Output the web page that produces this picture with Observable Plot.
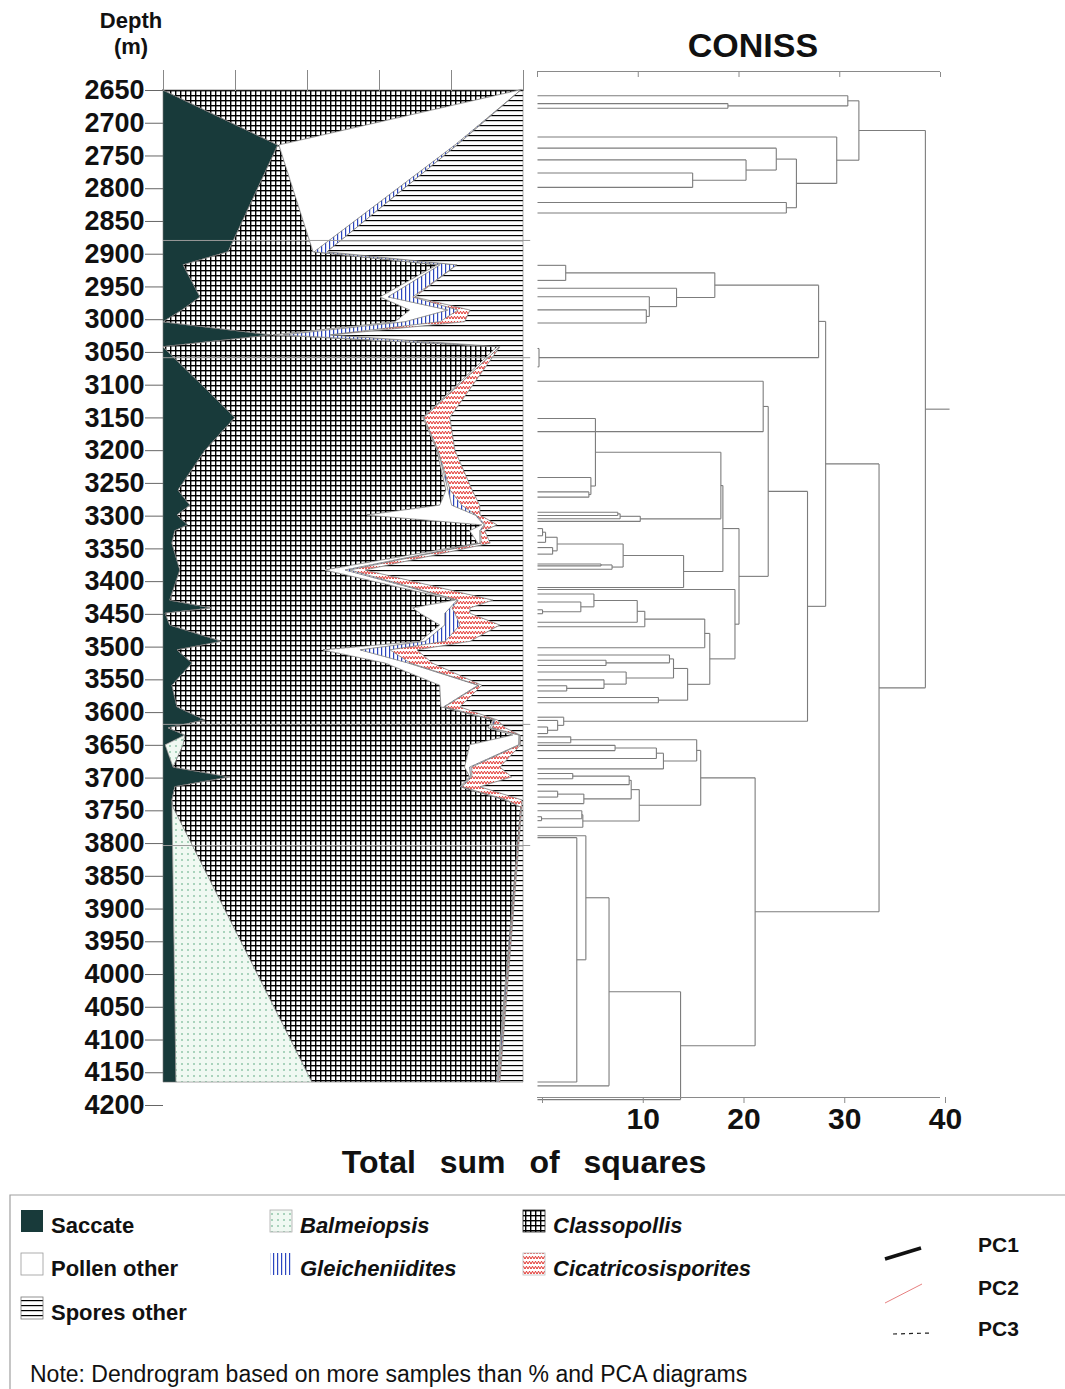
<!DOCTYPE html>
<html>
<head>
<meta charset="utf-8">
<script src="https://cdn.jsdelivr.net/npm/d3@7"></script>
<script src="https://cdn.jsdelivr.net/npm/@observablehq/plot@0.6"></script>
<style>
html,body{margin:0;padding:0;background:#fff;}
#wrap{position:relative;width:1065px;height:1389px;overflow:hidden;}
#wrap svg{position:absolute;}
</style>
</head>
<body>
<div id="wrap"></div>
<script>
// ---------------- DATA ----------------
const depths = [2650,2734,2897,2917,2966,2986,3004,3024,3042,3150,3200,3261,3284,3299,3314,3323,3342,3383,3429,3441,3449,3467,3492,3505,3525,3559,3592,3612,3624,3635,3650,3684,3699,3714,3734,3745,4165];
const saccate      = [0,31.9,18.1,5.6,10.3,5.3,0,30.3,0,20.0,11.7,4.2,7.5,3.9,6.9,3.3,2.5,4.7,1.9,13.6,0.6,1.9,16.4,3.9,8.1,2.5,3.9,11.7,1.4,6.1,0.6,2.8,18.6,3.3,2.5,2.5,3.6];
const balmeiopsis  = [0,0,0,0,0,0,0,0,0,0,0,0,0,0,0,0,0,0,0,0,0,0,0,0,0,0,0,0,0,0,5.0,0,0,0,0,0.3,37.8];
const classopollis = [99.1,0.3,23.6,70.6,50.0,63.3,64.4,0.3,92.8,52.2,64.4,74.4,69.4,52.8,81.7,81.9,85.0,40.3,79.2,55.8,70.8,75.0,55.0,40.6,53.6,74.4,73.3,80.0,88.9,91.1,79.6,81.0,66.6,79.2,92.4,96.6,51.3];
const pollenOther  = [0.3,48.9,0.3,0.8,2.2,10.6,2.8,2.8,0.8,0.3,0.3,0.6,3.3,30.0,0.6,2.8,0.6,5.6,0.6,10.3,6.9,1.4,1.4,10.3,6.4,10.6,0.8,0.3,0.6,1.7,13.6,1.4,0.3,0.3,0.3,0,0.3];
const gleicheniidites = [0,0.6,3.6,4.7,6.9,2.8,9.7,13.1,0,0,0,0.6,2.8,0.3,0.3,0.3,0.3,1.4,0.3,0.6,2.8,4.2,5.6,8.3,0.6,0.3,0.3,0.3,0.6,0.3,0.3,0.6,0.3,0.3,0.3,0,0.3];
const cicatricosisporites = [0,0,0,0,0.6,3.3,6.9,0.6,0,7.2,4.7,6.1,5.0,1.1,3.3,1.1,2.5,4.2,9.7,5.0,4.2,11.1,6.9,7.5,6.1,0.8,4.2,0.6,3.6,0,0.3,7.8,11.1,5.0,4.2,0.3,0.3];
const sporesOther  = [0.6,18.3,54.4,18.3,30.0,14.7,16.2,52.9,6.4,20.3,18.9,14.1,12.0,11.9,7.2,10.6,9.1,43.8,8.3,14.7,14.7,6.4,14.7,29.4,25.2,11.4,17.5,7.1,4.9,0.8,0.6,6.4,3.1,11.9,0.3,0.3,6.4];

const categoryNames = ["Saccate","Balmeiopsis","Classopollis","Pollen other","Gleicheniidites","Cicatricosisporites","Spores other"];
const depthTicks = d3.range(2650, 4201, 50);
const pctTicks = [0,20,40,60,80,100];
const dendTicks = [0,10,20,30,40];
const zoneDepths = [2879, 3058, 3618, 3803];

// CONISS dendrogram: [total sum of squares, upper, lower]; leaves are sample depths (m)
const conissTree =
[38.5,
  [31.9,
    [30.8, 2658, [18.9, 2670, 2677]],
    [29.7, 2721, [25.7, [23.7, 2738, [20.7, 2756, [15.4, 2776, 2798]]], [24.7, 2821, 2837]]]
  ],
  [33.9,
    [28.6,
      [27.9,
        [17.6, [2.8, 2917, 2940], [13.8, 2952, [11.1, 2965, [10.8, 2985, 3005]]]],
        [0.15, 3044, 3072]
      ],
      [26.8,
        [22.9,
          [22.4, 3094, 3171],
          [20.0,
            [18.4,
              [18.2,
                [5.75, 3151, [5.3, 3241, [5.1, 3263, 3271]]],
                [10.2, [8.2, [7.97, 3294, 3299], 3304], 3308]
              ],
              [14.5, [8.5, [1.95, [0.8, [0.5, 3319, 3330], 3340], [1.5, 3348, 3358]], [7.4, [6.3, 3373, 3376], 3381]], 3409]
            ],
            [19.6, 3412,
              [17.1,
                [16.6, [10.65, [9.9, [5.6, 3419, [4.3, 3431, [0.5, 3443, 3449]]], 3462], 3469], 3501],
                [14.9,
                  [13.5, [13.1, 3512, [6.8, 3520, 3528]], [8.8, 3538, [6.6, 3550, [2.9, 3559, 3567]]]],
                  [12.0, 3577, 3585]
                ]
              ]
            ]
          ]
        ],
        [2.6, 3607, [2.0, 3612, [1.0, 3622, 3632]]]
      ]
    ],
    [21.6,
      [16.2,
        [15.8, [3.3, 3637, 3646], [12.5, [11.8, [7.7, 3650, 3658], 3670], 3686]],
        [10.1, [9.3, [9.1, [3.5, 3693, 3701], 3710], [4.6, [2.0, 3720, 3729], 3739]], [4.5, [4.4, 3750, [0.4, 3759, 3765]], 3775]]
      ],
      [14.2, [7.1, [4.8, 3788, [3.9, 3791, 4164]], 4170], 4191]
    ]
  ]
];

// ---------------- SETUP ----------------
const FONT = "'Liberation Sans', Arial, Helvetica, sans-serif";
const wrap = d3.select("#wrap");
const ov = wrap.append("svg").attr("width",1065).attr("height",1389)
  .style("left","0px").style("top","0px");
ov.append("defs").html(`
<pattern id="p-grid" patternUnits="userSpaceOnUse" width="5" height="5">
  <rect width="5" height="5" fill="#fff"/>
  <rect x="0" y="0" width="1.4" height="5" fill="#000"/>
  <rect x="0" y="0" width="5" height="1.4" fill="#000"/>
</pattern>
<pattern id="p-hlines" patternUnits="userSpaceOnUse" width="6" height="5">
  <rect width="6" height="5" fill="#fff"/>
  <rect x="0" y="0" width="6" height="1.2" fill="#000"/>
</pattern>
<pattern id="p-vlines" patternUnits="userSpaceOnUse" width="4" height="6">
  <rect width="4" height="6" fill="#fff"/>
  <rect x="1" y="0" width="1.2" height="6" fill="#2c46c0"/>
</pattern>
<pattern id="p-zig" patternUnits="userSpaceOnUse" width="6" height="5">
  <rect width="6" height="5" fill="#fff"/>
  <path d="M0,4L1.5,1.2L3,4L4.5,1.2L6,4" fill="none" stroke="#e2342f" stroke-width="1"/>
</pattern>
<pattern id="p-dots" patternUnits="userSpaceOnUse" width="6" height="6">
  <rect width="6" height="6" fill="#f0f9f2"/>
  <circle cx="2" cy="2" r="0.75" fill="#3f9a6b"/>
</pattern>`);

const fills = {
  "Saccate": "#183a3a",
  "Balmeiopsis": "url(#p-dots)",
  "Classopollis": "url(#p-grid)",
  "Pollen other": "#ffffff",
  "Gleicheniidites": "url(#p-vlines)",
  "Cicatricosisporites": "url(#p-zig)",
  "Spores other": "url(#p-hlines)"
};
const series = [saccate, balmeiopsis, classopollis, pollenOther, gleicheniidites, cicatricosisporites, sporesOther];

// cumulative rows
const rows = depths.map((d, i) => {
  const total = d3.sum(series, s => s[i]);
  let acc = 0;
  const r = {depth: d};
  series.forEach((s, k) => {
    r["a" + k] = acc;
    acc += s[i] * 100 / total;
    r["b" + k] = acc;
  });
  return r;
});

const yRange = [90, 1105];
const yPix = d3.scaleLinear([2650, 4200], yRange);

// ---------------- PLOT 1: percentage diagram ----------------
const p1 = Plot.plot({
  width: 540, height: 1110,
  marginLeft: 163, marginRight: 17, marginTop: 90, marginBottom: 5,
  style: {fontFamily: FONT, background: "transparent", overflow: "visible", color: "#111"},
  x: {domain: [0, 100]},
  y: {domain: [2650, 4200], range: yRange},
  marks: [
    ...categoryNames.map((name, k) => Plot.areaX(rows, {
      y: "depth", x1: "a" + k, x2: "b" + k,
      fill: fills[name], stroke: "#7a7a7a", strokeWidth: 0.6, curve: "linear"
    })),
    Plot.ruleY(zoneDepths, {x1: 0, x2: 102, stroke: "#9a9a9a", strokeWidth: 1}),
    Plot.axisX({anchor: "top", ticks: pctTicks, tickSize: 21, tickFormat: () => "", label: null, stroke: "#888"}),
    Plot.axisY({anchor: "left", ticks: depthTicks, tickSize: 18, tickPadding: 1, tickFormat: d => String(d),
      label: null, fontSize: 27, fontWeight: "bold", stroke: "#666", fill: "#111"})
  ]
});
p1.style.left = "0px"; p1.style.top = "0px";
wrap.node().appendChild(p1);

// ---------------- PLOT 2: CONISS dendrogram ----------------
const segs = [];
function layout(node) {
  if (typeof node === "number") return {h: 0, y: node};
  const [h, a, b] = node;
  const A = layout(a), B = layout(b);
  segs.push({x1: A.h, x2: h, y1: A.y, y2: A.y});
  segs.push({x1: B.h, x2: h, y1: B.y, y2: B.y});
  segs.push({x1: h, x2: h, y1: A.y, y2: B.y});
  return {h, y: (A.y + B.y) / 2};
}
const root = layout(conissTree);
segs.push({x1: root.h, x2: 40.9, y1: root.y, y2: root.y});

const p2 = Plot.plot({
  width: 535, height: 1180,
  marginLeft: 7, marginRight: 125, marginTop: 71, marginBottom: 83,
  style: {fontFamily: FONT, background: "transparent", overflow: "visible", color: "#111"},
  x: {domain: [0, 40]},
  y: {domain: [2650, 4200], range: yRange, axis: null},
  marks: [
    Plot.link(segs, {x1: "x1", y1: "y1", x2: "x2", y2: "y2", stroke: "#7c7c7c", strokeWidth: 1.1}),
    Plot.ruleY([yPix.invert(71)], {x1: 0, x2: 40, stroke: "#8a8a8a", strokeWidth: 1.2}),
    Plot.ruleY([yPix.invert(1097)], {x1: 0, x2: 40, stroke: "#8a8a8a", strokeWidth: 1.2}),
    Plot.axisX({anchor: "top", ticks: dendTicks, tickSize: 5, dy: 5, tickFormat: () => "", label: null, stroke: "#8a8a8a"}),
    Plot.axisX({anchor: "bottom", ticks: dendTicks, tickSize: 6, tickPadding: 4, dx: 5,
      tickFormat: d => d === 0 ? "" : String(d), label: null, fontSize: 30, fontWeight: "bold", stroke: "#8a8a8a", fill: "#111"})
  ]
});
p2.style.left = "530px"; p2.style.top = "0px";
wrap.node().appendChild(p2);

// ---------------- TITLES & LEGEND (overlay) ----------------
function T(x, y, txt, o = {}) {
  return ov.append("text").attr("x", x).attr("y", y)
    .attr("text-anchor", o.anchor || "start")
    .attr("font-size", o.size || 22)
    .attr("font-weight", o.weight || "bold")
    .attr("font-style", o.italic ? "italic" : "normal")
    .attr("font-family", FONT).attr("fill", "#111")
    .style("word-spacing", o.ws ? o.ws + "px" : null)
    .text(txt);
}
T(131, 28, "Depth", {anchor: "middle", size: 22});
T(131, 54, "(m)", {anchor: "middle", size: 22});
T(753, 57, "CONISS", {anchor: "middle", size: 34});
T(524, 1173, "Total sum of squares", {anchor: "middle", size: 32, ws: 15});

// legend frame
ov.append("path").attr("d", "M10,1389V1195H1065").attr("fill", "none").attr("stroke", "#a0a0a0").attr("stroke-width", 1.2);

const legendItems = [
  {name: "Saccate", x: 21, y: 1210, italic: false, border: "none"},
  {name: "Pollen other", x: 21, y: 1253, italic: false, border: "#999"},
  {name: "Spores other", x: 21, y: 1297, italic: false, border: "#777"},
  {name: "Balmeiopsis", x: 270, y: 1210, italic: true, border: "#aaa"},
  {name: "Gleicheniidites", x: 270, y: 1253, italic: true, border: "none"},
  {name: "Classopollis", x: 523, y: 1210, italic: true, border: "#222"},
  {name: "Cicatricosisporites", x: 523, y: 1253, italic: true, border: "#bbb"}
];
legendItems.forEach(it => {
  ov.append("rect").attr("x", it.x).attr("y", it.y).attr("width", 22).attr("height", 22)
    .attr("fill", fills[it.name]).attr("stroke", it.border).attr("stroke-width", 0.8);
  T(it.x + 30, it.y + 23, it.name, {size: 22, italic: it.italic});
});

// PCA line legend
ov.append("line").attr("x1", 885).attr("y1", 1259).attr("x2", 921).attr("y2", 1248).attr("stroke", "#111").attr("stroke-width", 3.5);
ov.append("line").attr("x1", 885).attr("y1", 1303).attr("x2", 922).attr("y2", 1284).attr("stroke", "#e06060").attr("stroke-width", 0.8);
ov.append("line").attr("x1", 893).attr("y1", 1334).attr("x2", 931).attr("y2", 1333).attr("stroke", "#222").attr("stroke-width", 1.2).attr("stroke-dasharray", "4,4");
T(978, 1252, "PC1", {size: 21});
T(978, 1295, "PC2", {size: 21});
T(978, 1336, "PC3", {size: 21});

T(30, 1382, "Note: Dendrogram based on more samples than % and PCA diagrams", {size: 23, weight: "normal"});
</script>
</body>
</html>
